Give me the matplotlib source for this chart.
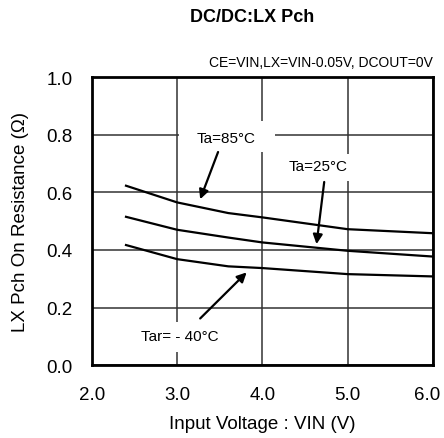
import matplotlib.pyplot as plt
from matplotlib.patches import Rectangle
from matplotlib.transforms import ScaledTranslation

plt.rcParams['font.family'] = ['Liberation Sans', 'DejaVu Sans']

# Datos
vin = [2.4, 3.0, 3.6, 4.0, 5.0, 6.0]
r_85 = [0.623, 0.565, 0.528, 0.513, 0.472, 0.458]
r_25 = [0.515, 0.470, 0.443, 0.426, 0.397, 0.377]
r_m40 = [0.417, 0.368, 0.343, 0.337, 0.316, 0.308]

fig = plt.figure(figsize=(4.44, 4.39), dpi=100)
ax = fig.add_axes([0.207, 0.166, 0.768, 0.656])

for r in (r_85, r_25, r_m40):
    ax.plot(vin, r, color='black', linewidth=1.6, zorder=3)

ax.set_xlim(2.0, 6.0)
ax.set_ylim(0.0, 1.0)
ax.set_xticks([2.0, 3.0, 4.0, 5.0, 6.0])
ax.set_yticks([0.0, 0.2, 0.4, 0.6, 0.8, 1.0])
ax.xaxis.set_major_formatter(plt.FormatStrFormatter('%.1f'))
ax.yaxis.set_major_formatter(plt.FormatStrFormatter('%.1f'))
ax.tick_params(length=0, labelsize=13.5)
ax.tick_params(axis='y', pad=14)
ax.tick_params(axis='x', pad=15)
ax.grid(True, color='#333333', linewidth=1.1)
ax.set_axisbelow(True)
for s in ax.spines.values():
    s.set_linewidth(2)

# la etiqueta 6.0 un poco a la izquierda para que no se corte
fig.canvas.draw()
last = ax.get_xticklabels()[-1]
last.set_transform(last.get_transform() + ScaledTranslation(-4 / 72, 0, fig.dpi_scale_trans))

ax.set_xlabel('Input Voltage : VIN (V)', fontsize=13.5, va='center')
ax.set_ylabel('LX Pch On Resistance (Ω)', fontsize=13.5, va='center')
ax.xaxis.set_label_coords(0.5, -0.201)
ax.yaxis.set_label_coords(-0.208, 0.5)

fig.text(0.568, 0.961, 'DC/DC:LX Pch', ha='center', va='center', fontsize=13, fontweight='bold')
ax.text(1.0, 1.028, 'CE=VIN,LX=VIN-0.05V, DCOUT=0V', transform=ax.transAxes,
        ha='right', va='bottom', fontsize=10)

# fondos blancos de las etiquetas (tapan la rejilla)
for x0, y0, w, h in [(3.02, 0.740, 1.13, 0.107), (4.17, 0.640, 0.86, 0.093), (2.56, 0.045, 0.98, 0.104)]:
    ax.add_patch(Rectangle((x0, y0), w, h, facecolor='white', edgecolor='none', zorder=1))

arrow = dict(arrowstyle='-|>', color='black', lw=1.6, mutation_scale=14, shrinkA=0, shrinkB=0)

ax.text(3.58, 0.788, 'Ta=85°C', ha='center', va='center', fontsize=11, zorder=2)
ax.annotate('', xy=(3.27, 0.576), xytext=(3.48, 0.740), arrowprops=arrow, zorder=4)

ax.text(4.655, 0.690, 'Ta=25°C', ha='center', va='center', fontsize=11, zorder=2)
ax.annotate('', xy=(4.635, 0.420), xytext=(4.725, 0.636), arrowprops=arrow, zorder=4)

ax.text(3.03, 0.102, 'Tar= - 40°C', ha='center', va='center', fontsize=11, zorder=2)
ax.annotate('', xy=(3.815, 0.322), xytext=(3.27, 0.162), arrowprops=arrow, zorder=4)

fig.savefig('out.png', dpi=100)
